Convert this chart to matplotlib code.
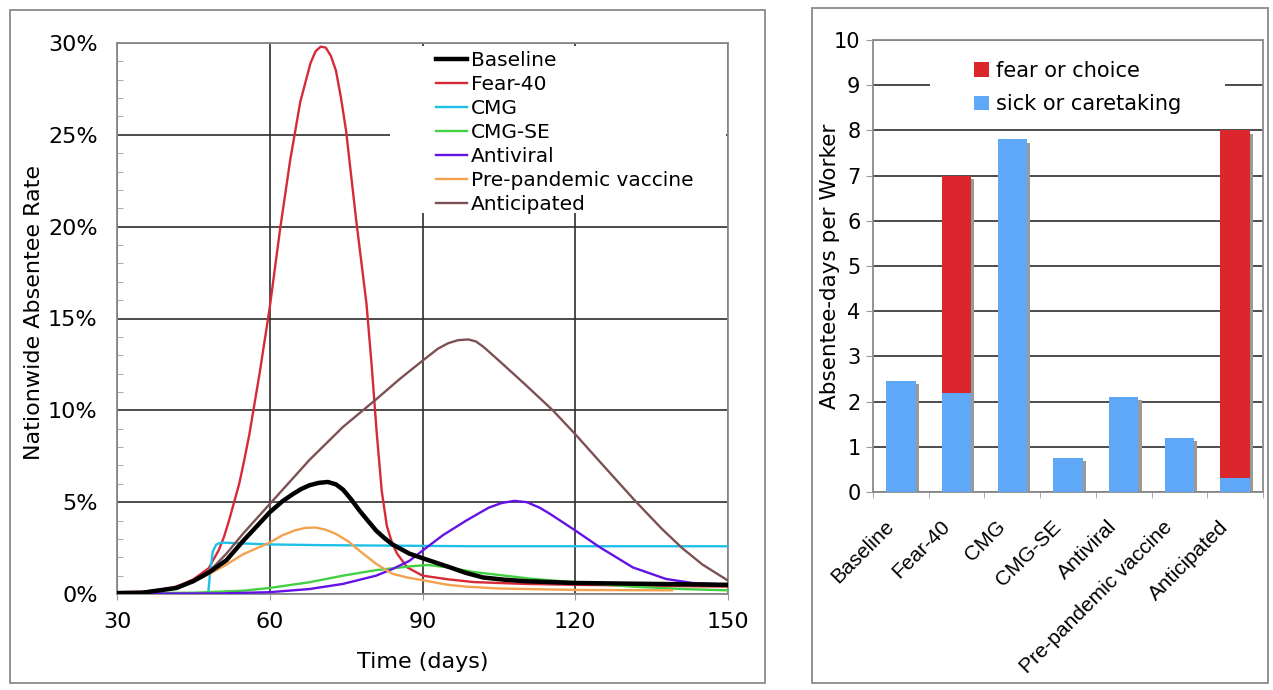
import numpy as np
import matplotlib
matplotlib.use("Agg")
import matplotlib.pyplot as plt
from matplotlib.patches import Rectangle
from matplotlib.ticker import MultipleLocator, PercentFormatter

plt.rcParams['font.family'] = ['DejaVu Sans']

# ---- left panel: nationwide absentee rate (%) vs time (days) ----
baseline_t = [30, 35, 41.7, 45, 48.2, 51.5, 54.8, 57.5, 60, 62.5, 64.6, 66.2, 67.8, 69.6, 71.4,
              73, 74.4, 76, 77.6, 79.3, 80.9, 82.5, 84.1, 87.4, 90, 92.7, 95.4, 98.5, 101.9,
              106, 110, 120, 135, 150]
baseline_v = [0.05, 0.07, 0.33, 0.7, 1.2, 1.84, 2.9, 3.7, 4.45, 5.05, 5.45, 5.72, 5.92, 6.05,
              6.1, 5.97, 5.68, 5.15, 4.55, 3.98, 3.45, 3.05, 2.7, 2.2, 1.95, 1.7, 1.45, 1.15,
              0.9, 0.78, 0.7, 0.6, 0.55, 0.5]

fear_t = [30, 35, 38, 41, 43, 45, 48, 50, 51, 52, 53, 54, 55, 56, 58, 60, 62, 64, 66, 68, 69,
          70, 71, 72, 73, 74, 75, 77, 79, 80, 81, 82, 83, 84, 85, 87, 90, 95, 100, 110, 120,
          135, 150]
fear_v = [0.1, 0.12, 0.2, 0.35, 0.55, 0.8, 1.4, 2.4, 3.1, 4.0, 5.0, 6.0, 7.3, 8.7, 12.0, 15.6,
          19.8, 23.6, 26.8, 28.9, 29.55, 29.8, 29.75, 29.3, 28.5, 27.0, 25.2, 20.3, 15.8,
          12.5, 8.8, 5.6, 3.7, 2.8, 2.2, 1.45, 1.0, 0.8, 0.65, 0.55, 0.5, 0.45, 0.4]

cmg_t = [30, 47.9, 48.3, 48.8, 49.5, 50.5, 55, 60, 70, 80, 90, 100, 120, 150]
cmg_v = [0, 0, 1.2, 2.3, 2.7, 2.8, 2.75, 2.7, 2.66, 2.64, 2.62, 2.6, 2.6, 2.6]

cmgse_t = [30, 45, 54.8, 60, 67.8, 74.4, 80.9, 87.4, 91, 95, 100, 111.7, 120, 131.3, 141.1, 150]
cmgse_v = [0.05, 0.07, 0.18, 0.33, 0.64, 1.0, 1.3, 1.5, 1.58, 1.45, 1.2, 0.82, 0.64, 0.4, 0.27, 0.2]

antiviral_t = [30, 50, 60, 67.8, 74.4, 80.9, 84.1, 87.4, 90, 94, 98.6, 103, 105.5, 108, 110.5,
               113, 115, 120, 124.8, 131.3, 137.8, 143, 150]
antiviral_v = [0.02, 0.03, 0.1, 0.27, 0.55, 1.0, 1.36, 1.8, 2.36, 3.2, 4.0, 4.7, 4.95, 5.07, 5.0,
               4.7, 4.37, 3.46, 2.55, 1.45, 0.82, 0.6, 0.51]

vaccine_t = [30, 35, 41.7, 45, 48.2, 51.5, 54.8, 60, 62.5, 65, 67, 69, 71, 73, 75.5, 77.6, 80.9,
             84.1, 87, 90, 95, 98.6, 105, 120, 139]
vaccine_v = [0.1, 0.1, 0.33, 0.65, 1.1, 1.6, 2.17, 2.8, 3.2, 3.47, 3.6, 3.62, 3.5, 3.27, 2.85,
             2.36, 1.64, 1.1, 0.9, 0.75, 0.5, 0.4, 0.3, 0.22, 0.2]

anticip_t = [30, 35, 41.7, 45, 48.2, 51.5, 54.8, 60, 67.8, 74.4, 80.9, 85.5, 90, 93, 95, 97, 99,
             100.5, 102, 105.2, 110, 115.6, 120, 125, 132, 137, 141, 145, 150]
anticip_v = [0.1, 0.1, 0.37, 0.7, 1.25, 2.2, 3.3, 4.9, 7.3, 9.1, 10.6, 11.7, 12.7, 13.35, 13.65,
             13.82, 13.86, 13.75, 13.45, 12.66, 11.45, 10.0, 8.7, 7.15, 5.0, 3.55, 2.5, 1.6, 0.73]

# ---- right panel: absentee-days per worker ----
scenarios = ['Baseline', 'Fear-40', 'CMG', 'CMG-SE', 'Antiviral', 'Pre-pandemic vaccine', 'Anticipated']
sick_days = [2.45, 2.2, 7.8, 0.75, 2.1, 1.2, 0.3]
fear_days = [0, 4.8, 0, 0, 0, 0, 7.7]

fig = plt.figure(figsize=(12.73, 6.9), dpi=100)
W, H = 1273, 690

# panel frames
for x0, y0, x1, y1 in [(10, 10, 765, 683), (812, 8, 1268, 683)]:
    fig.add_artist(Rectangle((x0 / W, 1 - y1 / H), (x1 - x0) / W, (y1 - y0) / H,
                             transform=fig.transFigure, fill=False,
                             edgecolor='#8a8a8a', lw=1.3))

# ---------------- left chart ----------------
ax1 = fig.add_axes([117 / W, 1 - 594 / H, 611 / W, 551 / H])
series = [
    (fear_t, fear_v, 'Fear-40', '#d62a36'),
    (cmg_t, cmg_v, 'CMG', '#1fc0e8'),
    (cmgse_t, cmgse_v, 'CMG-SE', '#43d043'),
    (antiviral_t, antiviral_v, 'Antiviral', '#6412e6'),
    (vaccine_t, vaccine_v, 'Pre-pandemic vaccine', '#f4a24e'),
    (anticip_t, anticip_v, 'Anticipated', '#7d5154'),
]
for t, v, lab, col in series:
    ax1.plot(t, v, color=col, lw=1.7, label=lab, zorder=3)
ax1.plot(baseline_t, baseline_v, color='black', lw=3.2, label='Baseline', zorder=4)

ax1.set_xlim(30, 150)
ax1.set_ylim(0, 30)
ax1.set_xticks([30, 60, 90, 120, 150])
ax1.set_yticks([0, 5, 10, 15, 20, 25, 30])
ax1.yaxis.set_major_formatter(PercentFormatter(decimals=0))
ax1.yaxis.set_minor_locator(MultipleLocator(1))
ax1.grid(True, color='#2e2e2e', lw=1.2)
ax1.set_axisbelow(True)
for s in ax1.spines.values():
    s.set_color('#8a8a8a')
    s.set_linewidth(1.3)
ax1.tick_params(axis='y', which='major', length=0, pad=14, labelsize=16)
ax1.tick_params(axis='y', which='minor', direction='in', length=4, color='#9a9a9a')
ax1.tick_params(axis='x', which='major', direction='out', length=4, color='#9a9a9a',
                pad=9, labelsize=16)
ax1.set_xlabel('Time (days)', fontsize=16)
ax1.set_ylabel('Nationwide Absentee Rate', fontsize=16)
ax1.xaxis.set_label_coords(0.5, -0.105)
ax1.yaxis.set_label_coords(-0.12, 0.51)

# white block behind the legend hides the gridlines there
ax1.add_patch(Rectangle((0.447, 0.691), 0.55, 0.303, transform=ax1.transAxes,
                        facecolor='white', edgecolor='none', zorder=1))
h, l = ax1.get_legend_handles_labels()
order = [6, 0, 1, 2, 3, 4, 5]
ax1.legend([h[i] for i in order], [l[i] for i in order], loc='upper left',
           bbox_to_anchor=(0.522, 0.985), frameon=False, fontsize=14.5,
           handlelength=1.55, handletextpad=0.2, labelspacing=0.25,
           borderpad=0, borderaxespad=0)

# ---------------- right chart ----------------
ax2 = fig.add_axes([873 / W, 1 - 492 / H, 390 / W, 452 / H])
x = np.arange(len(scenarios))
total = np.array(sick_days) + np.array(fear_days)
ax2.bar(x + 0.055, total - 0.07, width=0.53, color='#9a9a9a', zorder=2)
b_sick = ax2.bar(x, sick_days, width=0.53, color='#5ea8f7', zorder=3)
b_fear = ax2.bar(x, fear_days, bottom=sick_days, width=0.53, color='#dc262e', zorder=3)

ax2.set_xlim(-0.5, 6.5)
ax2.set_ylim(0, 10)
ax2.set_yticks(range(0, 11))
ax2.yaxis.grid(True, color='#2e2e2e', lw=1.2)
ax2.set_axisbelow(True)
for s in ax2.spines.values():
    s.set_color('#8a8a8a')
    s.set_linewidth(1.3)
# rotated labels sit a little left of the bar centres, as in the original
ax2.set_xticks(x - 0.3)
ax2.set_xticklabels(scenarios, rotation=45, ha='right', rotation_mode='anchor',
                    family='Liberation Sans', fontsize=15)
ax2.set_xticks(np.arange(-0.5, 7, 1), minor=True)
ax2.tick_params(axis='x', which='major', length=0, pad=18)
ax2.tick_params(axis='x', which='minor', direction='out', length=4, color='#9a9a9a')
ax2.tick_params(axis='y', direction='out', length=5, color='#9a9a9a', labelsize=15, pad=4)
ax2.set_ylabel('Absentee-days per Worker', fontsize=15.5)
ax2.yaxis.set_label_coords(-0.085, 0.5)

ax2.add_patch(Rectangle((0.146, 0.83), 0.757, 0.14, transform=ax2.transAxes,
                        facecolor='white', edgecolor='none', zorder=1))
ax2.legend([b_fear, b_sick], ['fear or choice', 'sick or caretaking'], loc='upper left',
           bbox_to_anchor=(0.26, 0.954), frameon=False, fontsize=15,
           handlelength=0.72, handleheight=0.72, handletextpad=0.3, labelspacing=0.65,
           borderpad=0, borderaxespad=0)

fig.savefig('out.png', dpi=100)
